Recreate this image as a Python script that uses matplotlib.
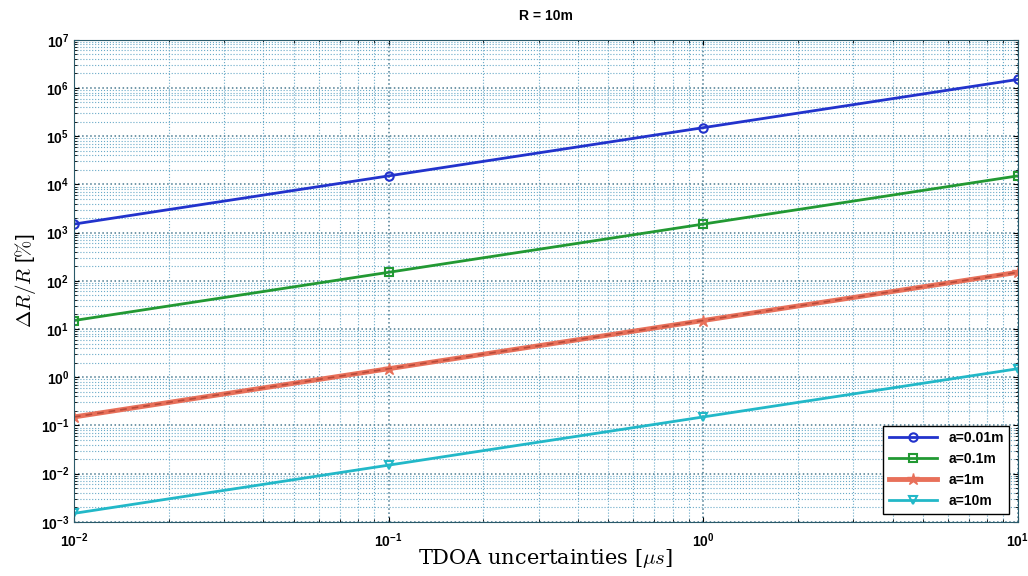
import matplotlib
matplotlib.use('Agg')
import matplotlib.pyplot as plt
from matplotlib.ticker import LogLocator, NullFormatter
import numpy as np

# TDOA uncertainty [us]
tdoa = [0.01, 0.1, 1, 10]

# Delta R / R [%] for each a
a001 = [1.5e3, 1.5e4, 1.5e5, 1.5e6]
a01 = [15.0, 150.0, 1.5e3, 1.5e4]
a1 = [0.15, 1.5, 15.0, 150.0]
a10 = [1.5e-3, 1.5e-2, 0.15, 1.5]

labels = ['a=0.01m', 'a=0.1m', 'a=1m', 'a=10m']

plt.rcParams['font.family'] = ['Liberation Sans', 'DejaVu Sans']
plt.rcParams['mathtext.fontset'] = 'cm'

fig = plt.figure(figsize=(10.28, 5.76), dpi=100)
ax = fig.add_axes([0.072, 0.094, 0.918, 0.837])

ax.loglog(tdoa, a001, '-o', color='#2233cc', lw=2, ms=6, mfc='none', mew=1.5, label=labels[0])
ax.loglog(tdoa, a01, '-s', color='#229933', lw=2, ms=6, mfc='none', mew=1.5, label=labels[1])
ax.loglog(tdoa, a1, '-*', color='#e8705a', lw=3.5, ms=9, label=labels[2])
ax.loglog(tdoa, a1, '--', color='#b84a3a', lw=1.2, dashes=(4, 3))
ax.loglog(tdoa, a10, '-v', color='#22b8c8', lw=2, ms=6, mfc='none', mew=1.5, label=labels[3])

ax.set_xlim(1e-2, 1e1)
ax.set_ylim(1e-3, 1e7)
ax.yaxis.set_major_locator(LogLocator(base=10, numticks=20))
ax.yaxis.set_minor_locator(LogLocator(base=10, subs=np.arange(2, 10), numticks=20))
ax.yaxis.set_minor_formatter(NullFormatter())

ax.grid(True, which='major', color='#4a7a90', ls=':', lw=1.1)
ax.grid(True, which='minor', color='#6aaac8', ls=':', lw=0.8)
ax.tick_params(which='both', direction='in', top=True, right=True, labelsize=10)
ax.tick_params(axis='x', pad=7)
for lab in ax.get_xticklabels() + ax.get_yticklabels():
    lab.set_fontweight('bold')
for s in ax.spines.values():
    s.set_color('#2a5a6a')

ax.set_title('R = 10m', fontsize=10, fontweight='bold', pad=14)
ax.set_xlabel(r'TDOA uncertainties [$\mu s$]', fontsize=15, family='serif', labelpad=-2)
ax.set_ylabel(r'$\Delta R/R$ [$\%$]', fontsize=15, labelpad=2)

leg = ax.legend(loc='lower right', fancybox=False, edgecolor='black', framealpha=1,
                fontsize=10, handlelength=3.5, borderaxespad=0.6)
for t in leg.get_texts():
    t.set_fontweight('bold')

fig.savefig('out.png', dpi=100)
plt.close(fig)
